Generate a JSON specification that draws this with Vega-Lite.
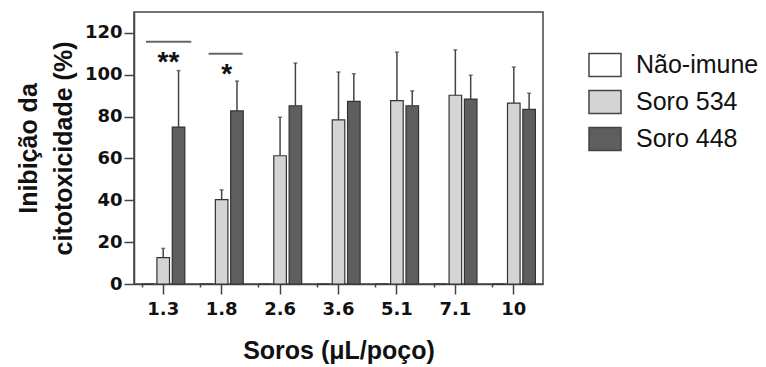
{
  "$schema": "https://vega.github.io/schema/vega-lite/v6.json",
  "width": 409,
  "height": 272,
  "autosize": "none",
  "padding": {"left": 134, "top": 12, "right": 223, "bottom": 83},
  "config": {
    "font": "Liberation Sans",
    "view": {"stroke": "#444", "strokeWidth": 1.5},
    "axis": {"domainColor": "#444", "domainWidth": 1.5, "tickColor": "#444", "tickWidth": 1.5, "labelColor": "#111", "titleColor": "#111", "grid": false, "labelFont": "DejaVu Sans", "titleFont": "Liberation Sans"}
  },
  "datasets": {
    "bars": [
      {"dose": "1.3", "serum": "Não-imune", "value": 0},
      {"dose": "1.3", "serum": "Soro 534", "value": 12.6, "upper": 17},
      {"dose": "1.3", "serum": "Soro 448", "value": 75, "upper": 102},
      {"dose": "1.8", "serum": "Não-imune", "value": 0},
      {"dose": "1.8", "serum": "Soro 534", "value": 40.3, "upper": 45},
      {"dose": "1.8", "serum": "Soro 448", "value": 82.7, "upper": 97},
      {"dose": "2.6", "serum": "Não-imune", "value": 0},
      {"dose": "2.6", "serum": "Soro 534", "value": 61.3, "upper": 79.7},
      {"dose": "2.6", "serum": "Soro 448", "value": 85.2, "upper": 105.6},
      {"dose": "3.6", "serum": "Não-imune", "value": 0},
      {"dose": "3.6", "serum": "Soro 534", "value": 78.4, "upper": 101.3},
      {"dose": "3.6", "serum": "Soro 448", "value": 87.3, "upper": 100.5},
      {"dose": "5.1", "serum": "Não-imune", "value": 0},
      {"dose": "5.1", "serum": "Soro 534", "value": 87.6, "upper": 110.8},
      {"dose": "5.1", "serum": "Soro 448", "value": 85.2, "upper": 92.3},
      {"dose": "7.1", "serum": "Não-imune", "value": 0},
      {"dose": "7.1", "serum": "Soro 534", "value": 90.2, "upper": 111.9},
      {"dose": "7.1", "serum": "Soro 448", "value": 88.4, "upper": 99.8},
      {"dose": "10", "serum": "Não-imune", "value": 0},
      {"dose": "10", "serum": "Soro 534", "value": 86.4, "upper": 103.7},
      {"dose": "10", "serum": "Soro 448", "value": 83.5, "upper": 91.2}
    ],
    "sig": [
      {"x1": 0.205, "x2": 0.98, "y": 115.8, "label": "**", "xt": 0.59, "yt": 101.8},
      {"x1": 1.277, "x2": 1.858, "y": 110, "label": "*", "xt": 1.585, "yt": 96}
    ]
  },
  "layer": [
    {
      "data": {"name": "bars"},
      "encoding": {
        "x": {
          "field": "dose", "type": "nominal",
          "sort": ["1.3", "1.8", "2.6", "3.6", "5.1", "7.1", "10"],
          "scale": {"paddingInner": 0.26, "paddingOuter": 0.13},
          "axis": {
            "title": "Soros (μL/poço)", "labelAngle": 0, "tickSize": 10,
            "labelFontSize": 18, "labelFontWeight": "bold", "labelPadding": 6,
            "titleFontSize": 25, "titleFontWeight": "bold", "titlePadding": 20
          }
        },
        "xOffset": {
          "field": "serum", "type": "nominal",
          "scale": {"domain": ["Não-imune", "Soro 534", "Soro 448"], "paddingInner": 0.18, "paddingOuter": 0}
        }
      },
      "layer": [
        {
          "mark": {"type": "bar", "stroke": "#333", "strokeWidth": 1.2},
          "encoding": {
            "y": {
              "field": "value", "type": "quantitative",
              "scale": {"domain": [0, 130], "nice": false},
              "axis": {
                "title": ["Inibição da", "citotoxicidade (%)"],
                "values": [0, 10, 20, 30, 40, 50, 60, 70, 80, 90, 100, 110, 120],
                "labelExpr": "datum.value % 20 === 0 ? datum.label : ''",
                "tickSize": {"condition": {"test": "datum.value % 20 === 0", "value": 10}, "value": 5},
                "labelFontSize": 18, "labelFontWeight": "bold", "labelPadding": 2,
                "titleFontSize": 25, "titleFontWeight": "bold", "titlePadding": 8, "titleLineHeight": 35
              }
            },
            "fill": {
              "field": "serum", "type": "nominal",
              "scale": {"domain": ["Não-imune", "Soro 534", "Soro 448"], "range": ["#ffffff", "#d4d4d4", "#5e5e5e"]},
              "legend": {
                "title": null, "orient": "none", "legendX": 454, "legendY": 36,
                "symbolType": "M-1,-0.72H1V0.72H-1Z", "symbolSize": 1024,
                "symbolStrokeColor": "#444", "symbolStrokeWidth": 1.5,
                "labelFont": "Liberation Sans", "labelFontSize": 25, "labelColor": "#111", "labelOffset": 14,
                "rowPadding": 5
              }
            }
          }
        },
        {
          "transform": [{"filter": "isValid(datum.upper)"}],
          "mark": {"type": "rule", "color": "#444", "strokeWidth": 1.5},
          "encoding": {
            "y": {"field": "value", "type": "quantitative"},
            "y2": {"field": "upper"}
          }
        },
        {
          "transform": [{"filter": "isValid(datum.upper)"}],
          "mark": {"type": "tick", "color": "#444", "thickness": 1.5, "size": 4, "orient": "horizontal"},
          "encoding": {
            "y": {"field": "upper", "type": "quantitative"}
          }
        }
      ]
    },
    {
      "data": {"name": "sig"},
      "layer": [
        {
          "mark": {"type": "rule", "color": "#666", "strokeWidth": 2},
          "encoding": {
            "x": {
              "field": "x1", "type": "quantitative",
              "scale": {"domain": [0, 7], "nice": false, "zero": false},
              "axis": {"values": [0.13, 1.13, 2.13, 3.13, 4.13, 5.13, 6.13], "labels": false, "domain": false, "tickSize": 3, "title": null, "orient": "bottom"}
            },
            "x2": {"field": "x2"},
            "y": {"field": "y", "type": "quantitative"}
          }
        },
        {
          "mark": {"type": "text", "fontSize": 28, "fontWeight": "bold", "color": "#111", "baseline": "alphabetic", "font": "Liberation Sans"},
          "encoding": {
            "x": {"field": "xt", "type": "quantitative"},
            "y": {"field": "yt", "type": "quantitative"},
            "text": {"field": "label"}
          }
        }
      ]
    }
  ],
  "resolve": {"scale": {"x": "independent"}}
}
